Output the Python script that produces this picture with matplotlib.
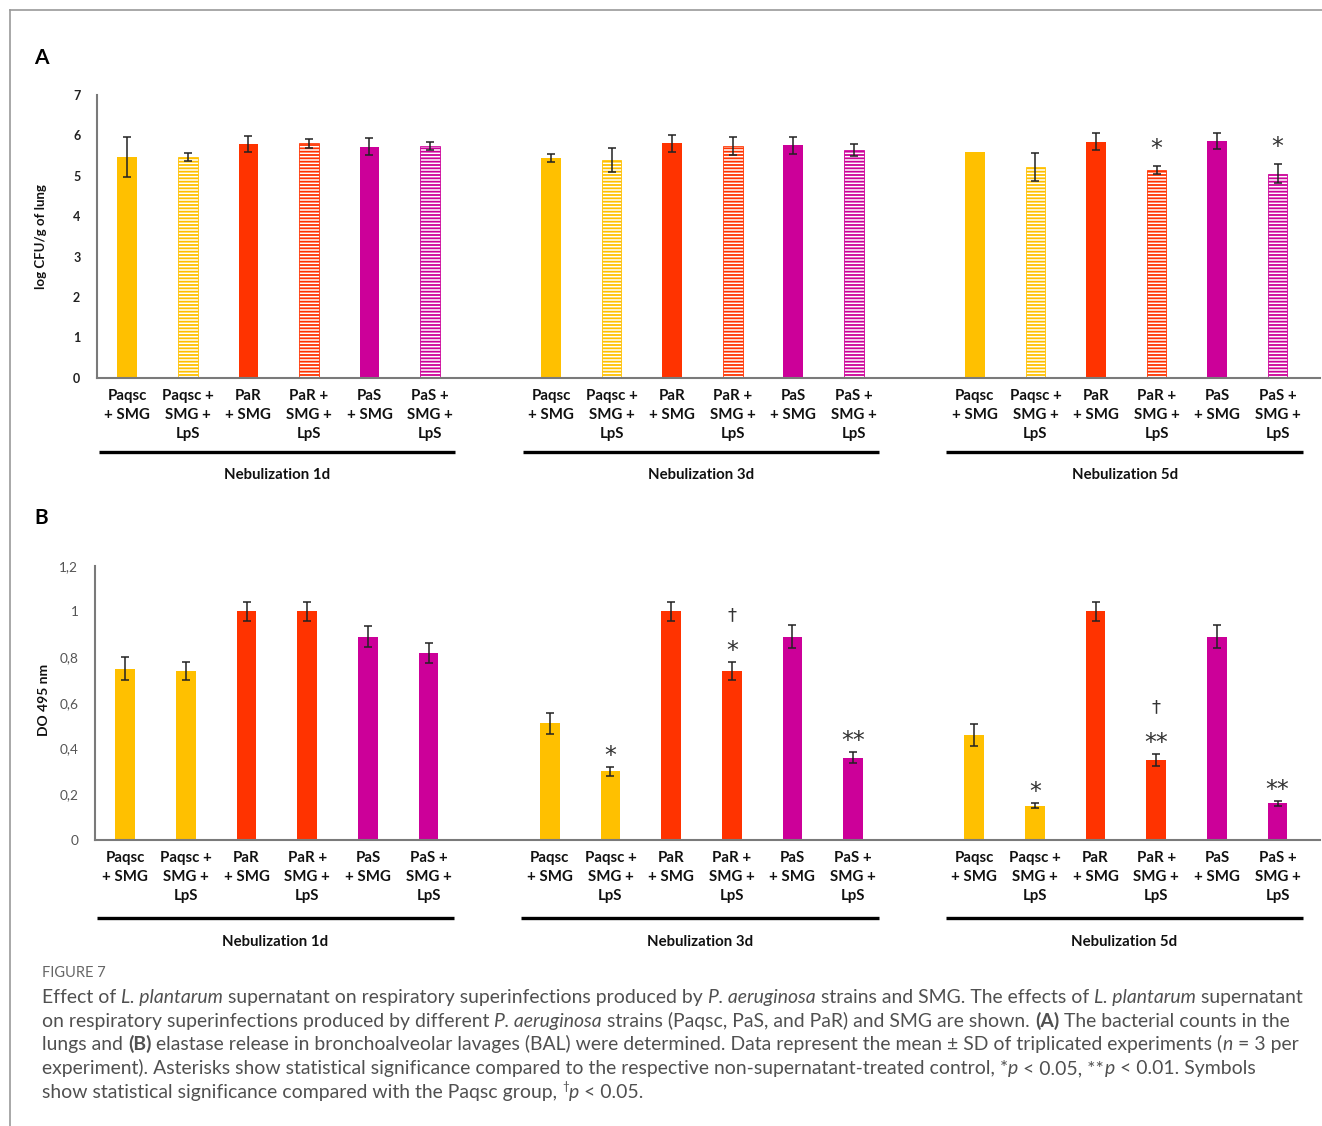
import matplotlib
matplotlib.use('Agg')
import matplotlib.pyplot as plt
from matplotlib.lines import Line2D
from matplotlib.transforms import blended_transform_factory, IdentityTransform

plt.rcParams['font.family'] = ['Lato', 'DejaVu Sans']
plt.rcParams['hatch.linewidth'] = 1.3

W, H = 1322, 1126

# data
groups = ['Nebulization 1d', 'Nebulization 3d', 'Nebulization 5d']
bar_labels = ['Paqsc\n+ SMG', 'Paqsc +\nSMG +\nLpS', 'PaR\n+ SMG',
              'PaR +\nSMG +\nLpS', 'PaS\n+ SMG', 'PaS +\nSMG +\nLpS']
bar_colors = ['#FFC000', '#FFC000', '#FF3300', '#FF3300', '#CC0099', '#CC0099']
lps_treated = [False, True, False, True, False, True]

cfu_mean = [[5.47, 5.47, 5.78, 5.80, 5.72, 5.74],
            [5.45, 5.39, 5.80, 5.73, 5.75, 5.64],
            [5.59, 5.22, 5.84, 5.15, 5.86, 5.05]]
cfu_sd = [[0.50, 0.10, 0.20, 0.10, 0.21, 0.10],
          [0.10, 0.30, 0.21, 0.22, 0.20, 0.14],
          [0.00, 0.35, 0.21, 0.10, 0.20, 0.24]]
cfu_marks = {(2, 3): ['*'], (2, 5): ['*']}

do_mean = [[0.75, 0.74, 1.00, 1.00, 0.89, 0.82],
           [0.51, 0.30, 1.00, 0.74, 0.89, 0.36],
           [0.46, 0.15, 1.00, 0.35, 0.89, 0.16]]
do_sd = [[0.050, 0.040, 0.040, 0.040, 0.047, 0.044],
         [0.047, 0.020, 0.040, 0.040, 0.050, 0.024],
         [0.048, 0.012, 0.040, 0.025, 0.050, 0.010]]
do_marks = {(1, 1): ['*'], (1, 3): ['*', '†'], (1, 5): ['**'],
            (2, 1): ['*'], (2, 3): ['**', '†'], (2, 5): ['**']}

do_ticks = [0, 0.2, 0.4, 0.6, 0.8, 1.0, 1.2]
do_ticklabels = ['0', '0,2', '0,4', '0,6', '0,8', '1', '1,2']


def px_rect(left, top, right, bottom):
    return [left / W, 1 - bottom / H, (right - left) / W, (bottom - top) / H]


fig = plt.figure(figsize=(W / 100, H / 100), dpi=100)
fig.patch.set_facecolor('white')

# thin frame round the figure
fig.add_artist(Line2D([10 / W, 10 / W], [0, 1 - 10 / H], color='#9a9a9a', lw=1.2))
fig.add_artist(Line2D([10 / W, 1], [1 - 10 / H, 1 - 10 / H], color='#9a9a9a', lw=1.2))

axA = fig.add_axes(px_rect(97, 95, 1320, 377.7))
axB = fig.add_axes(px_rect(95, 565.7, 1320, 840))


def draw_panel(ax, means, sds, marks, hatched, line_y, text_y, mark_off):
    pos = []
    for g in range(3):
        for i in range(6):
            x = g * 7 + i
            pos.append(x)
            m, s = means[g][i], sds[g][i]
            if hatched and lps_treated[i]:
                ax.bar(x, m, 0.325, color='white', edgecolor=bar_colors[i],
                       hatch='-----', linewidth=0.6, zorder=2)
            else:
                ax.bar(x, m, 0.325, color=bar_colors[i], linewidth=0, zorder=2)
            if s > 0:
                ax.errorbar(x, m, yerr=s, fmt='none', ecolor='#222222',
                            elinewidth=1.1, capsize=3, capthick=1.1, zorder=3)
            for sym in marks.get((g, i), []):
                if sym == '†':
                    ax.annotate(sym, (x, m + s), xytext=(0, mark_off + 27),
                                textcoords='offset points', ha='center', va='baseline',
                                fontsize=13, color='#333333', family='DejaVu Sans')
                else:
                    ax.annotate(sym, (x, m + s), xytext=(0, mark_off),
                                textcoords='offset points', ha='center', va='baseline',
                                fontsize=17, color='#333333', family='DejaVu Sans')
    ax.set_xticks(pos)
    ax.set_xticklabels(bar_labels * 3, fontweight='bold', fontsize=10.8,
                       linespacing=1.45, color='#111111')
    ax.tick_params(axis='both', length=0)
    ax.tick_params(axis='x', pad=8)
    ax.set_xlim(-0.5, 19.7)
    for side in ['top', 'right']:
        ax.spines[side].set_visible(False)
    for side in ['left', 'bottom']:
        ax.spines[side].set_color('#7a7a7a')
        ax.spines[side].set_linewidth(1.5)

    trans = blended_transform_factory(ax.transData, ax.transAxes)
    for g, name in enumerate(groups):
        x0, x1 = g * 7 - 0.47, g * 7 + 5 + 0.42
        ax.plot([x0, x1], [line_y, line_y], transform=trans, color='black',
                lw=2.4, clip_on=False, solid_capstyle='butt')
        ax.text((x0 + x1) / 2, text_y, name, transform=trans, ha='center',
                va='center', fontweight='bold', fontsize=10.8, color='#111111')


# A: bacterial counts
draw_panel(axA, cfu_mean, cfu_sd, cfu_marks, True, -0.262, -0.344, 7)
axA.set_ylim(0, 7)
axA.set_yticks(range(8))
axA.set_yticklabels([str(v) for v in range(8)], fontweight='bold', fontsize=9,
                    color='#222222')
axA.tick_params(axis='y', pad=12)
axA.set_ylabel('log CFU/g of lung', fontweight='bold', fontsize=9.5, color='#111111')
axA.yaxis.set_label_coords(-0.041, 0.5)

# B: elastase
draw_panel(axB, do_mean, do_sd, do_marks, False, -0.284, -0.372, 3)
axB.set_ylim(0, 1.2)
axB.set_yticks(do_ticks)
axB.set_yticklabels(do_ticklabels, fontsize=9.8, color='#555555')
axB.tick_params(axis='y', pad=12)
axB.set_ylabel('DO 495 nm', fontweight='bold', fontsize=10, color='#111111')
axB.yaxis.set_label_coords(-0.037, 0.51)

fig.text(34 / W, 1 - 58 / H, 'A', fontsize=15, fontweight='bold', va='center')
fig.text(34 / W, 1 - 518 / H, 'B', fontsize=15, fontweight='bold', va='center')

# caption
cap_color = '#505050'
fig.text(42 / W, 1 - 973 / H, 'FIGURE 7', fontsize=10.5, color='#666666', va='center')

caption_lines = [
    [("Effect of ", ""), ("L. plantarum", "i"),
     (" supernatant on respiratory superinfections produced by ", ""),
     ("P. aeruginosa", "i"), (" strains and SMG. The effects of ", ""),
     ("L. plantarum", "i"), (" supernatant", "")],
    [("on respiratory superinfections produced by different ", ""),
     ("P. aeruginosa", "i"),
     (" strains (Paqsc, PaS, and PaR) and SMG are shown. ", ""),
     ("(A)", "b"), (" The bacterial counts in the", "")],
    [("lungs and ", ""), ("(B)", "b"),
     (" elastase release in bronchoalveolar lavages (BAL) were determined. "
      "Data represent the mean ± SD of triplicated experiments (", ""),
     ("n", "i"), (" = 3 per", "")],
    [("experiment). Asterisks show statistical significance compared to the "
      "respective non-supernatant-treated control, *", ""),
     ("p", "i"), (" < 0.05, **", ""), ("p", "i"), (" < 0.01. Symbols", "")],
    [("show statistical significance compared with the Paqsc group, ", ""),
     ("†", "sup"), ("p", "i"), (" < 0.05.", "")],
]

renderer = fig.canvas.get_renderer()
cap_size = 13.95
for row, runs in enumerate(caption_lines):
    base = 1003 + row * 23.7
    x = 42
    for txt, st in runs:
        kw = {}
        fs = cap_size
        yy = base
        if st == 'i':
            kw['style'] = 'italic'
        elif st == 'b':
            kw['weight'] = 'bold'
        elif st == 'sup':
            fs = cap_size * 0.6
            yy = base - 8
        t = fig.text(x, H - yy, txt, transform=IdentityTransform(), fontsize=fs,
                     color=cap_color, va='baseline', **kw)
        x += t.get_window_extent(renderer).width

fig.savefig('out.png', dpi=100)
